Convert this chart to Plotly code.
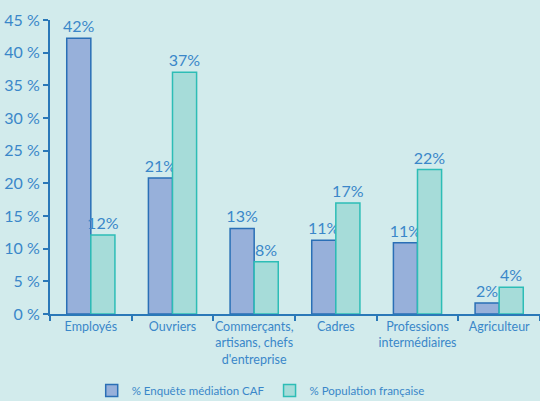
import plotly.graph_objects as go

categories = ["Employés", "Ouvriers", "Commerçants,<br>artisans, chefs<br>d'entreprise",
              "Cadres", "Professions<br>intermédiaires", "Agriculteur"]
caf_values = [42, 21, 13, 11, 11, 2]
caf_heights = [42.2, 20.8, 13.1, 11.3, 10.9, 1.7]
pop_values = [12, 37, 8, 17, 22, 4]
pop_heights = [12.1, 37.0, 8.0, 17.0, 22.1, 4.1]
y_ticks = [0, 5, 10, 15, 20, 25, 30, 35, 40, 45]

text_color = "#3a87c9"
axis_color = "#2a78b8"
font_family = "Lato, Open Sans, sans-serif"

fig = go.Figure()
fig.add_trace(go.Bar(
    x=categories, y=caf_heights, name="% Enquête médiation CAF",
    marker=dict(color="#97b0da", line=dict(color="#2a6fb6", width=1.5)),
    text=[f"{v}%" for v in caf_values], textposition="outside", constraintext="none",
    textfont=dict(size=16, color=text_color, family=font_family),
    cliponaxis=False,
))
fig.add_trace(go.Bar(
    x=categories, y=pop_heights, name="% Population française",
    marker=dict(color="#a6dcd9", line=dict(color="#2dbdb6", width=1.5)),
    text=[f"{v}%" for v in pop_values], textposition="outside", constraintext="none",
    textfont=dict(size=16, color=text_color, family=font_family),
    cliponaxis=False,
))

fig.update_layout(
    width=540, height=401,
    margin=dict(l=50, r=0, t=20, b=87, autoexpand=False),
    paper_bgcolor="#d2ebec", plot_bgcolor="#d2ebec",
    barmode="group", bargap=0.41, bargroupgap=0,
    font=dict(family=font_family, color=text_color, size=13),
    showlegend=True,
    legend=dict(orientation="h", x=0.43, xanchor="center", y=-0.26, yanchor="middle",
                font=dict(size=11.5, color=text_color), bgcolor="rgba(0,0,0,0)"),
)
fig.update_yaxes(
    range=[0, 45], tickvals=y_ticks, ticktext=[f"{t} %" for t in y_ticks],
    showgrid=False, zeroline=False, showline=True, linecolor=axis_color, linewidth=2,
    ticks="outside", ticklen=5, tickcolor=axis_color, tickwidth=2,
    tickfont=dict(size=16, color=text_color),
)
fig.update_xaxes(
    showgrid=False, showline=True, linecolor=axis_color, linewidth=2,
    ticks="outside", tickson="boundaries", ticklen=5, tickcolor=axis_color, tickwidth=2,
    tickangle=0, tickfont=dict(size=12.5, color=text_color),
)

# drop the default page margin so the 540x401 figure fills the window
fig.write_html("out.html", config={"displayModeBar": False},
               post_script="document.body.style.margin='0';document.body.style.overflow='hidden';")
